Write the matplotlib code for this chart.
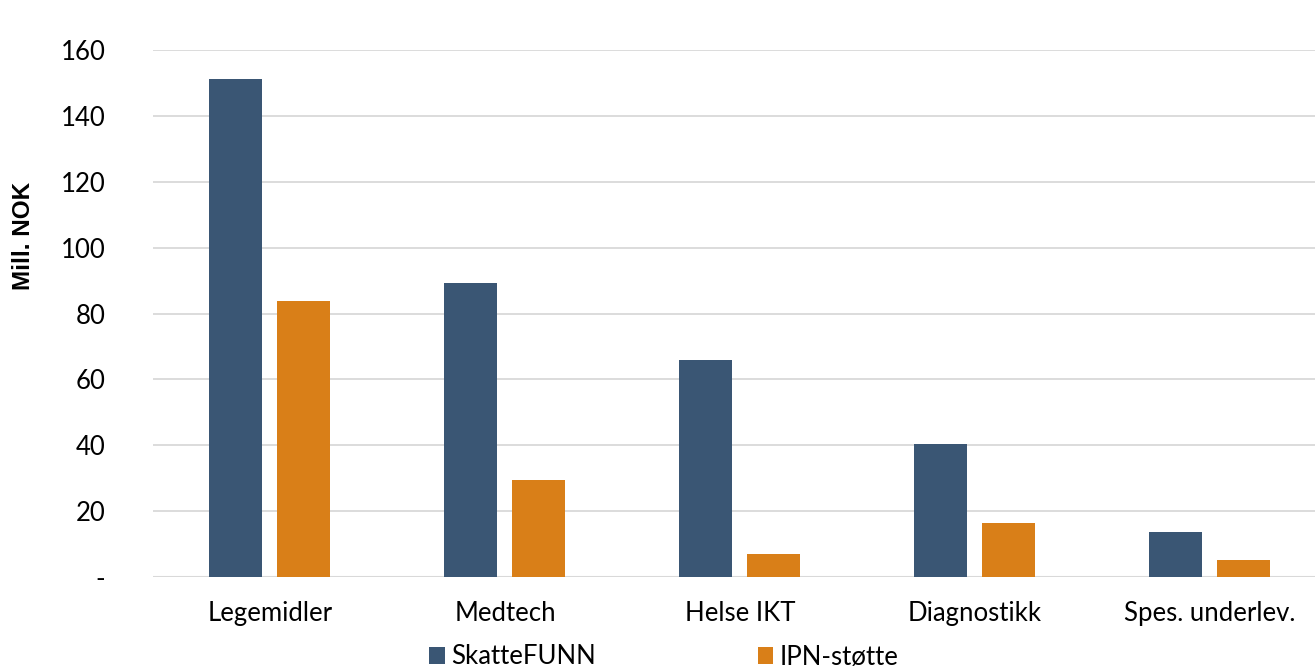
import matplotlib
matplotlib.use("Agg")
import matplotlib.pyplot as plt
import numpy as np

categories = ["Legemidler", "Medtech", "Helse IKT", "Diagnostikk", "Spes. underlev."]
skattefunn = [151.2, 89.3, 65.9, 40.4, 13.7]
ipn = [83.8, 29.4, 7.0, 16.4, 5.2]
yticks = [0, 20, 40, 60, 80, 100, 120, 140, 160]
ytick_labels = ["-", "20", "40", "60", "80", "100", "120", "140", "160"]

plt.rcParams['font.family'] = ['Lato', 'DejaVu Sans']
FS = 18.5

fig = plt.figure(figsize=(13.15, 6.68), dpi=100)
ax = fig.add_axes([152.5/1315, 1-577/668, 1175/1315, (577-50)/668])

x = np.arange(len(categories))
w = 0.225
ax.bar(x - 0.1465, skattefunn, w, color="#3A5674", label="SkatteFUNN", zorder=3)
ax.bar(x + 0.1415, ipn, w, color="#D97F18", label="IPN-støtte", zorder=3)

ax.set_xlim(-0.5, len(categories) - 0.5)
ax.set_ylim(0, 160)
ax.set_yticks(yticks)
ax.set_yticklabels(ytick_labels, fontsize=FS)
ax.set_xticks(x)
ax.set_xticklabels(categories, fontsize=FS)
ax.tick_params(axis='y', length=0, pad=34)
ax.tick_params(axis='x', length=0, pad=17)
ax.yaxis.grid(True, color="#D9D9D9", linewidth=1.3, zorder=0)
for s in ax.spines.values():
    s.set_visible(False)
ax.axhline(0, color="#D9D9D9", linewidth=1.5, zorder=2)

fig.text(24/1315, 1-236/668, "Mill. NOK", rotation=90, fontsize=17.5, fontweight="bold",
         family="Liberation Sans", ha="center", va="center")

leg = fig.legend(loc="center", bbox_to_anchor=(664/1315, 1-657/668), ncol=2, frameon=False,
                 fontsize=FS, handlelength=0.6, handleheight=0.6, handletextpad=0.25,
                 columnspacing=6.3)

fig.savefig("out.png", dpi=100)
